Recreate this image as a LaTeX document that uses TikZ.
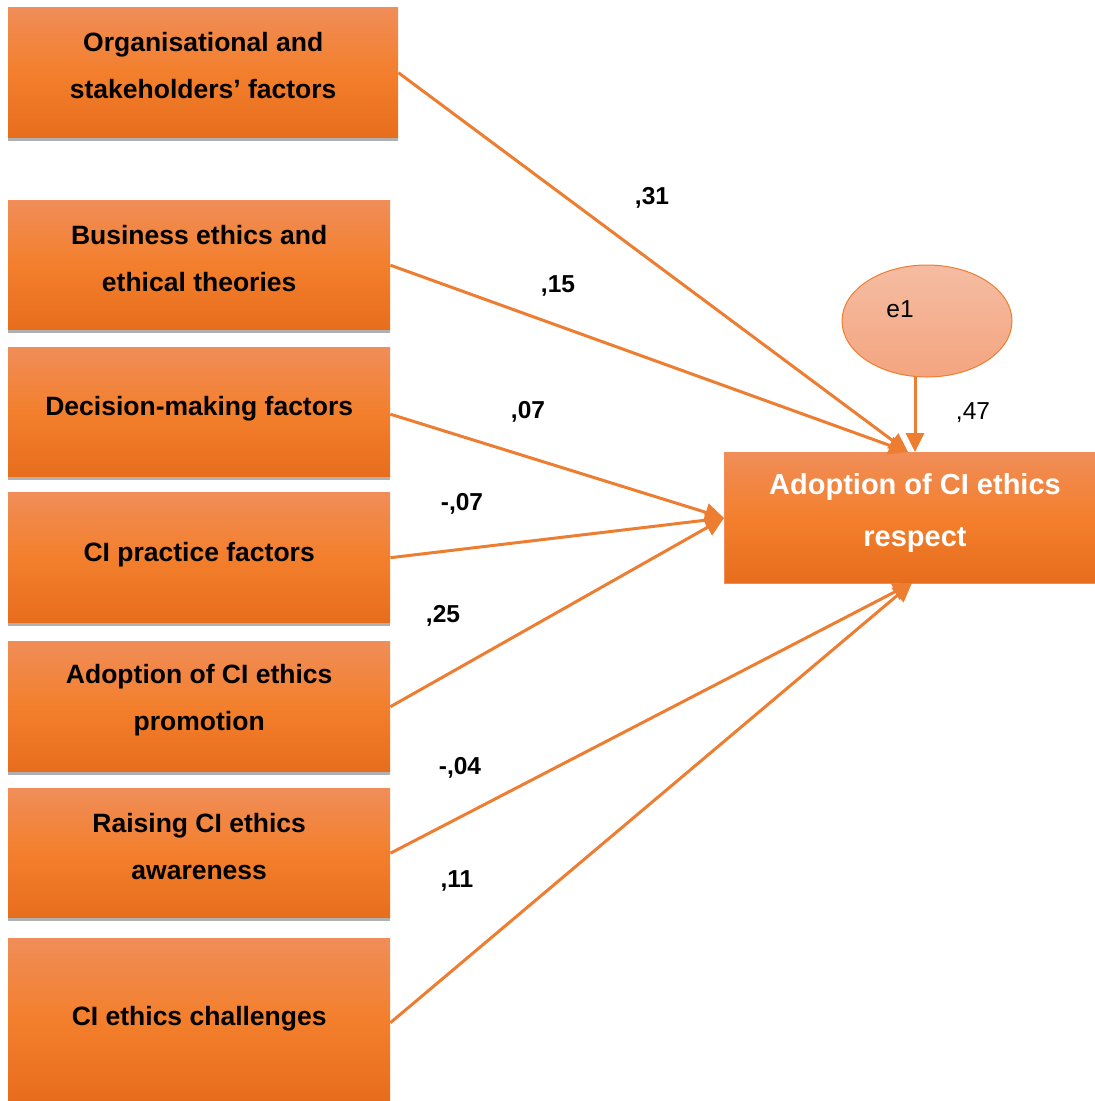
\documentclass[tikz,border=0pt]{standalone}
\usepackage{fontspec}
\setmainfont{Liberation Sans}
\usetikzlibrary{arrows.meta,shapes.geometric}
\definecolor{arrorange}{RGB}{237,125,49}
\definecolor{boxtop}{RGB}{240,141,88}
\definecolor{boxmid}{RGB}{243,127,44}
\definecolor{boxbot}{RGB}{231,109,28}
\definecolor{elltop}{RGB}{245,188,162}
\definecolor{ellbot}{RGB}{244,165,127}
\definecolor{shadowgray}{RGB}{176,176,176}
\tikzset{
  factorbox/.style={rectangle, draw=none, inner sep=0pt, anchor=north west,
    top color=boxtop, bottom color=boxbot, middle color=boxmid},
  boxshadow/.style={shadowgray, line width=3pt},
  boxtext/.style={align=center, font=\bfseries\fontsize{26.5}{47}\selectfont, text=black, inner sep=0pt},
  targettext/.style={align=center, font=\bfseries\fontsize{29}{52}\selectfont, text=white, inner sep=0pt},
  coef/.style={font=\bfseries\fontsize{24.5}{28}\selectfont, inner sep=0pt},
  coefplain/.style={font=\fontsize{24.5}{28}\selectfont, inner sep=0pt},
  path/.style={arrorange, line width=3pt, -{Triangle[length=19pt,width=18pt]}},
}
\begin{document}
\begin{tikzpicture}[x=1pt,y=-1pt]
\useasboundingbox (0,0) rectangle (1095,1101);

% left boxes
\node[factorbox, minimum width=390pt, minimum height=131pt] (b1) at (8,7) {};
\draw[boxshadow] (8,139.5) -- (398,139.5);
\node[boxtext] (t1) at ([yshift=7pt]b1.center) {Organisational and\\stakeholders’ factors};

\node[factorbox, minimum width=382pt, minimum height=130pt] (b2) at (8,200) {};
\draw[boxshadow] (8,331.5) -- (390,331.5);
\node[boxtext] (t2) at ([yshift=7pt]b2.center) {Business ethics and\\ethical theories};

\node[factorbox, minimum width=382pt, minimum height=130pt] (b3) at (8,347) {};
\draw[boxshadow] (8,478.5) -- (390,478.5);
\node[boxtext] (t3) at ([yshift=4pt]b3.center) {Decision-making factors};

\node[factorbox, minimum width=382pt, minimum height=131pt] (b4) at (8,492) {};
\draw[boxshadow] (8,624.5) -- (390,624.5);
\node[boxtext] (t4) at ([yshift=3pt]b4.center) {CI practice factors};

\node[factorbox, minimum width=382pt, minimum height=131pt] (b5) at (8,641) {};
\draw[boxshadow] (8,773.5) -- (390,773.5);
\node[boxtext] (t5) at ([yshift=7pt]b5.center) {Adoption of CI ethics\\promotion};

\node[factorbox, minimum width=382pt, minimum height=130pt] (b6) at (8,788) {};
\draw[boxshadow] (8,919.5) -- (390,919.5);
\node[boxtext] (t6) at ([yshift=7pt]b6.center) {Raising CI ethics\\awareness};

\node[factorbox, minimum width=382pt, minimum height=163pt] (b7) at (8,938) {};
\node[boxtext] (t7) at ([yshift=1pt]b7.center) {CI ethics challenges};

% target box
\node[factorbox, draw=boxtop, line width=1pt, minimum width=371pt, minimum height=131pt] (tg) at (724,452) {};
\node[targettext] (tt) at ([xshift=5pt,yshift=5pt]tg.center) {Adoption of CI ethics\\respect};

% error ellipse
\node[ellipse, draw=arrorange, line width=1pt, top color=elltop, bottom color=ellbot,
      minimum width=170pt, minimum height=112pt, inner sep=0pt] (e1) at (927,321) {};
\node[coefplain] (e1t) at (900,309) {e1};

% arrival points
\coordinate (ptop) at (908,452);
\coordinate (pe) at (915,452);
\coordinate (pleft) at (724,518);
\coordinate (pbot) at (912,583);
\coordinate (estart) at ([xshift=-12pt,yshift=1.5pt]e1.south);

% paths
\draw[path] (b1.east) -- (ptop);
\draw[path] (b2.east) -- (ptop);
\draw[path] ([yshift=-2pt]b3.east) -- (pleft);
\draw[path] (b4.east) -- (pleft);
\draw[path] (b5.east) -- (pleft);
\draw[path] (b6.east) -- (pbot);
\draw[path] ([yshift=-3pt]b7.east) -- (pbot);
\draw[path] (estart) -- (pe);

% coefficients
\node[coef] (c1) at (652,198) {,31};
\node[coef] (c2) at (558,286) {,15};
\node[coef] (c3) at (528,412) {,07};
\node[coef] (c4) at (462,504) {-,07};
\node[coef] (c5) at (443,616) {,25};
\node[coef] (c6) at (460,768) {-,04};
\node[coef] (c7) at (457,881) {,11};
\node[coefplain] (c8) at (973,413) {,47};
\end{tikzpicture}
\end{document}
